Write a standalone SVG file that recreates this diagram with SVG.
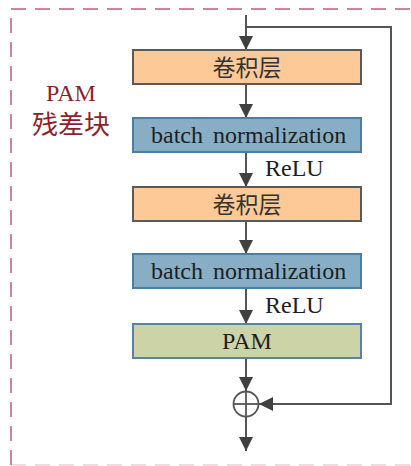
<svg xmlns="http://www.w3.org/2000/svg" width="411" height="466" viewBox="0 0 411 466">
  <style>
    .frame { fill: none; stroke: #C98797; stroke-width: 2; stroke-dasharray: 15 9; }
    .wire { fill: none; stroke: #555555; stroke-width: 2; }
    .conv { fill: #FDC996; stroke: #5A5A5A; stroke-width: 2; }
    .bn { fill: #88AEC6; stroke: #4C7DA6; stroke-width: 2; }
    .pam { fill: #CCD3A6; stroke: #5A82A6; stroke-width: 2; }
    .lbl { font-family: "Liberation Serif", "Noto Sans CJK SC", serif; font-size: 24px; fill: #1E1E1E; }
    .mid { text-anchor: middle; }
    .cjk { font-family: "Noto Sans CJK SC", "Liberation Serif", sans-serif; font-size: 23px; fill: #333333; text-anchor: middle; }
    .side { fill: #8E1F2C; text-anchor: middle; }
  </style>
  <defs>
    <marker id="arr" viewBox="0 0 14 14" refX="14" refY="7" markerWidth="14" markerHeight="14" markerUnits="userSpaceOnUse" orient="auto">
      <path d="M0,0 L14,7 L0,14 Z" fill="#404040"/>
    </marker>
  </defs>

  <!-- dashed outline of the residual block -->
  <path class="frame" d="M11,465 V9 H411"/>
  <path class="frame" d="M11,465 H411" stroke-opacity="0.3"/>

  <!-- block caption -->
  <g id="caption">
    <text class="side" x="71" y="101" font-family="Liberation Serif, serif" font-size="24">PAM</text>
    <text class="side" x="71" y="134" font-family="Noto Sans CJK SC, sans-serif" font-size="26">残差块</text>
  </g>

  <!-- connectors -->
  <g id="connectors">
    <line class="wire" x1="246" y1="15" x2="246" y2="50" marker-end="url(#arr)"/>
    <line class="wire" x1="246" y1="84" x2="246" y2="118" marker-end="url(#arr)"/>
    <line class="wire" x1="246" y1="152" x2="246" y2="187" marker-end="url(#arr)"/>
    <line class="wire" x1="246" y1="221" x2="246" y2="254" marker-end="url(#arr)"/>
    <line class="wire" x1="246" y1="288" x2="246" y2="324" marker-end="url(#arr)"/>
    <line class="wire" x1="246" y1="358" x2="246" y2="391" marker-end="url(#arr)"/>
    <line class="wire" x1="246" y1="416" x2="246" y2="451" marker-end="url(#arr)"/>
    <path class="wire" d="M246,27 H391 V404 H259" marker-end="url(#arr)"/>
    <text class="lbl" x="265" y="176">ReLU</text>
    <text class="lbl" x="265" y="313">ReLU</text>
  </g>

  <g id="conv1">
    <rect class="conv" x="133" y="50" width="228" height="34"/>
    <text class="cjk" x="247" y="76">卷积层</text>
  </g>
  <g id="bn1">
    <rect class="bn" x="133" y="118" width="228" height="34"/>
    <text class="lbl" x="151" y="143">batch</text>
    <text class="lbl" x="213" y="143">normalization</text>
  </g>
  <g id="conv2">
    <rect class="conv" x="133" y="187" width="228" height="34"/>
    <text class="cjk" x="247" y="213">卷积层</text>
  </g>
  <g id="bn2">
    <rect class="bn" x="133" y="254" width="228" height="34"/>
    <text class="lbl" x="151" y="279">batch</text>
    <text class="lbl" x="213" y="279">normalization</text>
  </g>
  <g id="pam">
    <rect class="pam" x="133" y="324" width="228" height="34"/>
    <text class="lbl mid" x="247" y="349">PAM</text>
  </g>
  <g id="sum">
    <circle cx="246" cy="404" r="12.5" fill="#FFFFFF" stroke="#555555" stroke-width="1.8"/>
    <line x1="233.5" y1="404" x2="258.5" y2="404" stroke="#555555" stroke-width="1.8"/>
    <line x1="246" y1="391.5" x2="246" y2="416.5" stroke="#555555" stroke-width="1.8"/>
  </g>
</svg>
